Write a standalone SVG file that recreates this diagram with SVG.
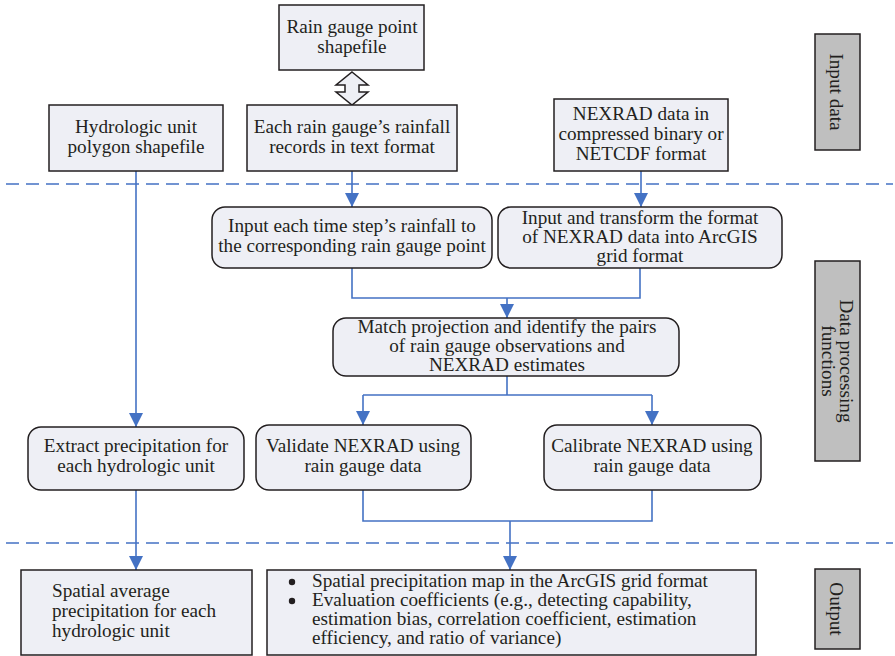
<svg xmlns="http://www.w3.org/2000/svg" width="895" height="656" viewBox="0 0 895 656">
  <style>
    .box { fill: #eeeff5; stroke: #231f20; stroke-width: 1.5; }
    .side { fill: #bfbfbf; stroke: #231f20; stroke-width: 1.5; }
    .t { font-family: "Liberation Serif", "DejaVu Serif", serif; font-size: 19.2px; fill: #231f20; }
    .c { text-anchor: middle; }
    .link { fill: none; stroke: #4472c4; stroke-width: 1.6; }
    .sep { fill: none; stroke: #4472c4; stroke-width: 1.6; stroke-dasharray: 13 7; }
  </style>
  <defs>
    <marker id="arrow" markerUnits="userSpaceOnUse" markerWidth="14" markerHeight="16" viewBox="0 0 14 16" refX="14" refY="7" orient="auto">
      <path d="M0,0 L14,7 L0,14 Z" fill="#4472c4"/>
    </marker>
  </defs>

  <!-- section separators -->
  <g id="separators">
    <line class="sep" x1="6" y1="184" x2="893" y2="184"/>
    <line class="sep" x1="6" y1="543" x2="893" y2="543"/>
  </g>

  <!-- section labels -->
  <g id="label-input">
    <rect class="side" x="815" y="34" width="45" height="116"/>
    <text class="t c" transform="translate(837,92) rotate(90)" y="7">Input data</text>
  </g>
  <g id="label-processing">
    <rect class="side" x="815" y="261" width="45" height="200"/>
    <text class="t c" transform="translate(837,361) rotate(90)"><tspan x="0" y="-3">Data processing</tspan><tspan x="0" y="15">functions</tspan></text>
  </g>
  <g id="label-output">
    <rect class="side" x="815" y="569" width="45" height="80"/>
    <text class="t c" transform="translate(837,609) rotate(90)" y="7">Output</text>
  </g>

  <!-- connectors -->
  <g id="connectors">
    <path d="M352,72 L368,85 L359,85 L359,92 L368,92 L352,105 L336,92 L345,92 L345,85 L336,85 Z" fill="#eeeff5" stroke="#231f20" stroke-width="1.5" stroke-linejoin="miter"/>
    <line class="link" x1="136" y1="171" x2="136" y2="427" marker-end="url(#arrow)"/>
    <line class="link" x1="352" y1="171" x2="352" y2="207" marker-end="url(#arrow)"/>
    <line class="link" x1="641" y1="171" x2="641" y2="207" marker-end="url(#arrow)"/>
    <path class="link" d="M352,268 V298 H640 V268"/>
    <line class="link" x1="507" y1="298" x2="507" y2="318" marker-end="url(#arrow)"/>
    <path class="link" d="M507,376 V395 M363,395 H652"/>
    <line class="link" x1="363" y1="395" x2="363" y2="425" marker-end="url(#arrow)"/>
    <line class="link" x1="652" y1="395" x2="652" y2="425" marker-end="url(#arrow)"/>
    <path class="link" d="M363,490 V521 H652 V490"/>
    <line class="link" x1="510" y1="521" x2="510" y2="570" marker-end="url(#arrow)"/>
    <line class="link" x1="136" y1="490" x2="136" y2="570" marker-end="url(#arrow)"/>
  </g>

  <!-- input nodes -->
  <g id="rain-gauge-shapefile">
    <rect class="box" x="279" y="5" width="145" height="65"/>
    <text class="t c"><tspan x="352" y="33">Rain gauge point</tspan><tspan x="352" y="53">shapefile</tspan></text>
  </g>
  <g id="hydrologic-shapefile">
    <rect class="box" x="49" y="105" width="174" height="66"/>
    <text class="t c"><tspan x="136" y="133">Hydrologic unit</tspan><tspan x="136" y="153">polygon shapefile</tspan></text>
  </g>
  <g id="rain-gauge-records">
    <rect class="box" x="247" y="105" width="210" height="66"/>
    <text class="t c"><tspan x="352" y="133">Each rain gauge’s rainfall</tspan><tspan x="352" y="153">records in text format</tspan></text>
  </g>
  <g id="nexrad-data">
    <rect class="box" x="554" y="99" width="174" height="72"/>
    <text class="t c"><tspan x="641" y="120">NEXRAD data in</tspan><tspan x="641" y="140">compressed binary or</tspan><tspan x="641" y="160">NETCDF format</tspan></text>
  </g>

  <!-- processing nodes -->
  <g id="input-rainfall">
    <rect class="box" x="212" y="207" width="280" height="61" rx="13"/>
    <text class="t c"><tspan x="352" y="232">Input each time step’s rainfall to</tspan><tspan x="352" y="252">the corresponding rain gauge point</tspan></text>
  </g>
  <g id="transform-nexrad">
    <rect class="box" x="498" y="207" width="284" height="61" rx="13"/>
    <text class="t c"><tspan x="640" y="224">Input and transform the format</tspan><tspan x="640" y="243">of NEXRAD data into ArcGIS</tspan><tspan x="640" y="262">grid format</tspan></text>
  </g>
  <g id="match-projection">
    <rect class="box" x="333" y="318" width="346" height="58" rx="13"/>
    <text class="t c"><tspan x="507" y="333">Match projection and identify the pairs</tspan><tspan x="507" y="352">of rain gauge observations and</tspan><tspan x="507" y="371">NEXRAD estimates</tspan></text>
  </g>
  <g id="extract-precipitation">
    <rect class="box" x="28" y="427" width="216" height="63" rx="13"/>
    <text class="t c"><tspan x="136" y="452">Extract precipitation for</tspan><tspan x="136" y="472">each hydrologic unit</tspan></text>
  </g>
  <g id="validate-nexrad">
    <rect class="box" x="256" y="425" width="215" height="65" rx="13"/>
    <text class="t c"><tspan x="363" y="452">Validate NEXRAD using</tspan><tspan x="363" y="472">rain gauge data</tspan></text>
  </g>
  <g id="calibrate-nexrad">
    <rect class="box" x="544" y="425" width="217" height="65" rx="13"/>
    <text class="t c"><tspan x="652" y="452">Calibrate NEXRAD using</tspan><tspan x="652" y="472">rain gauge data</tspan></text>
  </g>

  <!-- output nodes -->
  <g id="spatial-average">
    <rect class="box" x="21" y="570" width="231" height="85"/>
    <text class="t"><tspan x="52" y="597">Spatial average</tspan><tspan x="52" y="617">precipitation for each</tspan><tspan x="52" y="637">hydrologic unit</tspan></text>
  </g>
  <g id="evaluation-output">
    <rect class="box" x="267" y="570" width="489" height="85"/>
    <circle cx="292" cy="582" r="3.2" fill="#231f20"/>
    <circle cx="292" cy="601" r="3.2" fill="#231f20"/>
    <text class="t"><tspan x="312" y="587">Spatial precipitation map in the ArcGIS grid format</tspan><tspan x="312" y="606">Evaluation coefficients (e.g., detecting capability,</tspan><tspan x="312" y="625">estimation bias, correlation coefficient, estimation</tspan><tspan x="312" y="644">efficiency, and ratio of variance)</tspan></text>
  </g>
</svg>
